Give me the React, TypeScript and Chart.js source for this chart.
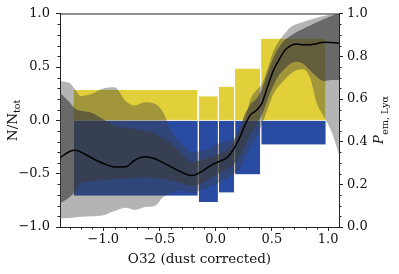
import React, { useEffect, useRef } from "react";
import { Chart, registerables } from "chart.js";

Chart.register(...registerables);

// ---- data ----
const binEdges = [-1.267, -0.156, 0.024, 0.168, 0.4, 0.982];
const fracEmitters = [0.29, 0.23, 0.32, 0.49, 0.77];
const fracNonEmitters = [-0.71, -0.77, -0.68, -0.51, -0.23];

const o32 = [-1.385, -1.3, -1.25, -1.2, -1.1, -1.0, -0.9, -0.8, -0.72, -0.63, -0.54, -0.47, -0.4, -0.3, -0.21, -0.12, -0.05, 0.02, 0.1, 0.16, 0.21, 0.26, 0.31, 0.36, 0.41, 0.46, 0.51, 0.56, 0.61, 0.66, 0.72, 0.78, 0.84, 0.9, 0.96, 1.03, 1.097];
const pEm = [0.325, 0.354, 0.36, 0.352, 0.323, 0.298, 0.282, 0.283, 0.313, 0.329, 0.32, 0.302, 0.283, 0.256, 0.241, 0.262, 0.287, 0.305, 0.325, 0.365, 0.415, 0.478, 0.526, 0.546, 0.58, 0.655, 0.73, 0.781, 0.825, 0.848, 0.858, 0.855, 0.855, 0.86, 0.866, 0.865, 0.862];
const innerUpper = [0.63, 0.585, 0.555, 0.545, 0.535, 0.505, 0.475, 0.465, 0.46, 0.45, 0.44, 0.415, 0.395, 0.34, 0.305, 0.315, 0.325, 0.34, 0.36, 0.4, 0.46, 0.53, 0.575, 0.6, 0.645, 0.72, 0.79, 0.84, 0.875, 0.895, 0.915, 0.93, 0.945, 0.96, 0.975, 0.99, 1.0];
const innerLower = [0.11, 0.14, 0.165, 0.205, 0.215, 0.22, 0.225, 0.228, 0.23, 0.232, 0.23, 0.226, 0.218, 0.205, 0.192, 0.208, 0.228, 0.25, 0.272, 0.295, 0.33, 0.38, 0.44, 0.48, 0.525, 0.595, 0.66, 0.71, 0.74, 0.765, 0.775, 0.765, 0.735, 0.705, 0.685, 0.69, 0.69];
const outerUpper = [0.684, 0.675, 0.645, 0.615, 0.625, 0.65, 0.655, 0.59, 0.57, 0.585, 0.578, 0.54, 0.455, 0.39, 0.352, 0.355, 0.372, 0.39, 0.403, 0.415, 0.44, 0.5, 0.6, 0.64, 0.67, 0.74, 0.82, 0.87, 0.905, 0.935, 0.952, 0.962, 0.972, 0.982, 0.99, 0.997, 1.0];
const outerLower = [0.04, 0.042, 0.045, 0.048, 0.05, 0.055, 0.075, 0.09, 0.08, 0.094, 0.1, 0.14, 0.16, 0.17, 0.16, 0.175, 0.19, 0.205, 0.225, 0.25, 0.27, 0.32, 0.375, 0.42, 0.48, 0.55, 0.62, 0.66, 0.69, 0.715, 0.735, 0.74, 0.7, 0.58, 0.52, 0.449, 0.34];

const xMajorTicks = [-1.0, -0.5, 0.0, 0.5, 1.0];
const xMinorTicks = [-1.3, -1.2, -1.1, -0.9, -0.8, -0.7, -0.6, -0.4, -0.3, -0.2, -0.1, 0.1, 0.2, 0.3, 0.4, 0.6, 0.7, 0.8, 0.9, 1.0];
const nMajorTicks = [-1.0, -0.5, 0.0, 0.5, 1.0];
const nMinorTicks = [-0.9, -0.8, -0.7, -0.6, -0.4, -0.3, -0.2, -0.1, 0.1, 0.2, 0.3, 0.4, 0.6, 0.7, 0.8, 0.9];
const pMajorTicks = [0.0, 0.2, 0.4, 0.6, 0.8, 1.0];
const pMinorTicks = [0.05, 0.1, 0.15, 0.25, 0.3, 0.35, 0.45, 0.5, 0.55, 0.65, 0.7, 0.75, 0.85, 0.9, 0.95];

const xTitle = "O32 (dust corrected)";
const leftTitleMain = "N/N";
const leftTitleSub = "tot";
const rightTitleMain = "P";
const rightTitleSub = "em, Ly\u03b1";

// ---- styles ----
const YELLOW = "rgb(225,208,58)";
const BLUE = "rgb(42,75,162)";
const OUTER = "rgba(60,60,60,0.385)";
const INNER = "rgba(60,60,60,0.62)";
const FONT = '"DejaVu Serif", serif';
const TICK_SIZE = 13;
const TITLE_SIZE = 13.5;
const SUB_SIZE = 9.5;

const fmt = (v: number) => {
  const s = Math.abs(v).toFixed(1);
  return v < -1e-9 ? "\u2212" + s : s;
};

const decorPlugin = {
  id: "decor",
  afterDraw(chart: any) {
    const { ctx, chartArea: a, scales } = chart;
    ctx.save();
    ctx.strokeStyle = "#222";
    ctx.lineWidth = 1;
    const len = 2;
    ctx.beginPath();
    xMinorTicks.forEach((v) => {
      const px = Math.round(scales.x.getPixelForValue(v)) + 0.5;
      ctx.moveTo(px, a.bottom);
      ctx.lineTo(px, a.bottom + len + 0.5);
    });
    nMinorTicks.forEach((v) => {
      const py = Math.round(scales.y.getPixelForValue(v)) + 0.5;
      ctx.moveTo(a.left, py);
      ctx.lineTo(a.left - len - 0.5, py);
    });
    pMinorTicks.forEach((v) => {
      const py = Math.round(scales.y1.getPixelForValue(v)) + 0.5;
      ctx.moveTo(a.right, py);
      ctx.lineTo(a.right + len + 0.5, py);
    });
    ctx.stroke();
    // top spine
    ctx.beginPath();
    ctx.moveTo(a.left, Math.round(a.top));
    ctx.lineTo(a.right, Math.round(a.top));
    ctx.stroke();

    // titles
    ctx.fillStyle = "#111";
    ctx.textBaseline = "alphabetic";
    ctx.textAlign = "center";
    ctx.font = `${TITLE_SIZE}px ${FONT}`;
    ctx.fillText(xTitle, (a.left + a.right) / 2, a.bottom + 36);

    const cy = (a.top + a.bottom) / 2;
    ctx.textAlign = "left";
    // left title
    ctx.font = `${TITLE_SIZE}px ${FONT}`;
    const w1 = ctx.measureText(leftTitleMain).width;
    ctx.font = `${SUB_SIZE}px ${FONT}`;
    const w2 = ctx.measureText(leftTitleSub).width;
    ctx.save();
    ctx.translate(16.5, cy);
    ctx.rotate(-Math.PI / 2);
    const s1 = -(w1 + w2) / 2;
    ctx.font = `${TITLE_SIZE}px ${FONT}`;
    ctx.fillText(leftTitleMain, s1, 0);
    ctx.font = `${SUB_SIZE}px ${FONT}`;
    ctx.fillText(leftTitleSub, s1 + w1, 3);
    ctx.restore();

    // right title
    ctx.font = `italic ${TITLE_SIZE}px ${FONT}`;
    const r1 = ctx.measureText(rightTitleMain).width;
    ctx.font = `${SUB_SIZE}px ${FONT}`;
    const r2 = ctx.measureText(rightTitleSub).width;
    ctx.save();
    ctx.translate(383, cy);
    ctx.rotate(-Math.PI / 2);
    const s2 = -(r1 + r2) / 2;
    ctx.font = `italic ${TITLE_SIZE}px ${FONT}`;
    ctx.fillText(rightTitleMain, s2, 0);
    ctx.font = `${SUB_SIZE}px ${FONT}`;
    ctx.fillText(rightTitleSub, s2 + r1 + 0.5, 4.5);
    ctx.restore();

    ctx.restore();
  },
};

export default function App() {
  const ref = useRef<HTMLCanvasElement | null>(null);

  useEffect(() => {
    if (!ref.current) return;
    Chart.defaults.font.family = FONT;
    const pts = (ys: number[]) => o32.map((x, i) => ({ x, y: ys[i] }));
    const barSet = (vals: number[], color: string) =>
      vals.map((h, i) => ({
        data: [
          { x: binEdges[i], y: 0 },
          { x: binEdges[i], y: h },
          { x: binEdges[i + 1], y: h },
          { x: binEdges[i + 1], y: 0 },
        ],
        yAxisID: "y",
        backgroundColor: color,
        borderColor: "#ffffff",
        borderWidth: 1,
        fill: "origin",
        pointRadius: 0,
        tension: 0,
        order: 10,
      }));

    const datasets: any[] = [
      ...barSet(fracEmitters, YELLOW),
      ...barSet(fracNonEmitters, BLUE),
      {
        data: [
          { x: binEdges[0], y: 0 },
          { x: binEdges[binEdges.length - 1], y: 0 },
        ],
        yAxisID: "y",
        borderColor: "rgba(255,255,255,0.8)",
        borderWidth: 1,
        fill: false,
        pointRadius: 0,
        order: 9,
      },
      {
        data: pts(outerLower),
        yAxisID: "y1",
        borderColor: "transparent",
        borderWidth: 0,
        fill: false,
        pointRadius: 0,
        cubicInterpolationMode: "monotone",
        order: 3,
      },
      {
        data: pts(outerUpper),
        yAxisID: "y1",
        borderColor: "transparent",
        borderWidth: 0,
        backgroundColor: OUTER,
        fill: "-1",
        pointRadius: 0,
        cubicInterpolationMode: "monotone",
        order: 3,
      },
      {
        data: pts(innerLower),
        yAxisID: "y1",
        borderColor: "transparent",
        borderWidth: 0,
        fill: false,
        pointRadius: 0,
        cubicInterpolationMode: "monotone",
        order: 2,
      },
      {
        data: pts(innerUpper),
        yAxisID: "y1",
        borderColor: "transparent",
        borderWidth: 0,
        backgroundColor: INNER,
        fill: "-1",
        pointRadius: 0,
        cubicInterpolationMode: "monotone",
        order: 2,
      },
      {
        data: pts(pEm),
        yAxisID: "y1",
        borderColor: "#000",
        borderWidth: 1.5,
        fill: false,
        pointRadius: 0,
        cubicInterpolationMode: "monotone",
        order: 1,
      },
    ];

    const tickFont = { family: FONT, size: TICK_SIZE };
    const grid = {
      display: true,
      drawOnChartArea: false,
      drawTicks: true,
      tickLength: 4,
      tickColor: "#222",
      tickWidth: 1,
    };
    const border = { display: true, color: "#222", width: 1 };

    const chart = new Chart(ref.current, {
      type: "line",
      data: { datasets },
      options: {
        animation: false,
        responsive: false,
        events: [],
        layout: { padding: { top: 11, left: 0, right: 0, bottom: 0 } },
        plugins: { legend: { display: false }, tooltip: { enabled: false } },
        scales: {
          x: {
            type: "linear",
            position: "bottom",
            min: -1.385,
            max: 1.097,
            grid,
            border,
            ticks: { font: tickFont, color: "#111", padding: 1, callback: (v: any) => fmt(Number(v)) },
            afterBuildTicks: (s: any) => {
              s.ticks = xMajorTicks.map((value) => ({ value }));
            },
            afterFit: (s: any) => {
              s.height = 47;
            },
          },
          y: {
            type: "linear",
            position: "left",
            min: -1,
            max: 1,
            grid,
            border,
            ticks: { font: tickFont, color: "#111", padding: 6, callback: (v: any) => fmt(Number(v)) },
            afterBuildTicks: (s: any) => {
              s.ticks = nMajorTicks.map((value) => ({ value }));
            },
            afterFit: (s: any) => {
              s.width = 60;
            },
          },
          y1: {
            type: "linear",
            position: "right",
            min: 0,
            max: 1,
            grid,
            border,
            ticks: { font: tickFont, color: "#111", padding: 4, callback: (v: any) => fmt(Number(v)) },
            afterBuildTicks: (s: any) => {
              s.ticks = pMajorTicks.map((value) => ({ value }));
            },
            afterFit: (s: any) => {
              s.width = 60;
            },
          },
        },
      } as any,
      plugins: [decorPlugin],
    });
    return () => chart.destroy();
  }, []);

  return (
    <div style={{ position: "fixed", left: 0, top: 0, width: 399, height: 274, background: "#fff" }}>
      <canvas ref={ref} width={399} height={274} style={{ display: "block", width: 399, height: 274 }} />
    </div>
  );
}
